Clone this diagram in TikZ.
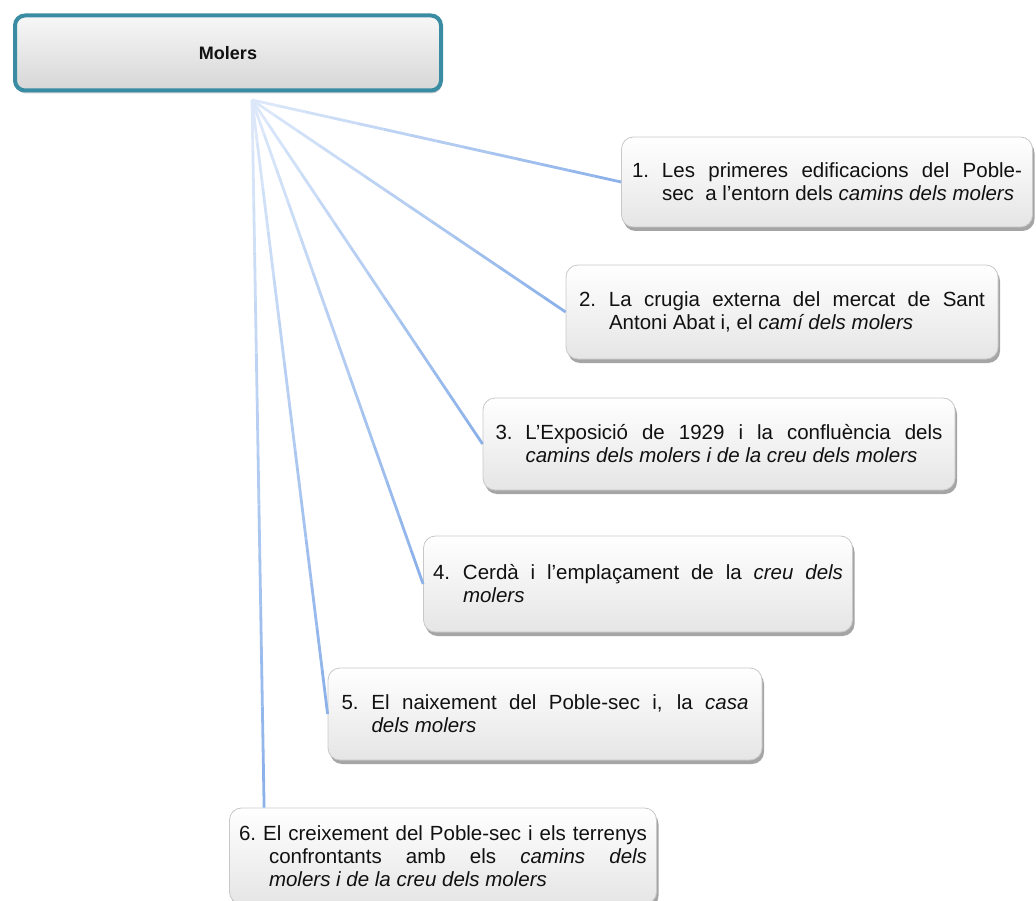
\documentclass[tikz,border=0pt]{standalone}
\usepackage{fontspec}
\setmainfont{Liberation Sans}
\usetikzlibrary{shadows}
\definecolor{Teal}{HTML}{3A8CA3}
\definecolor{Link}{HTML}{8DB2EA}
\definecolor{LinkPale}{HTML}{E2ECFB}
\definecolor{Edge}{HTML}{C8C8C8}
\definecolor{Shade}{HTML}{D4D4D4}
\definecolor{Ink}{HTML}{111111}

\tikzset{
  rootbox/.style={rectangle, rounded corners=10pt, draw=Teal, line width=4pt,
    top color=gray!6, bottom color=gray!32,
    drop shadow={shadow xshift=1pt, shadow yshift=-3pt, opacity=0.3, fill=black!60},
    font=\fontsize{18}{22}\selectfont\bfseries, text=Ink},
  topic/.style={rectangle, rounded corners=12pt, draw=Edge, line width=0.8pt,
    top color=white, bottom color=Shade!60,
    drop shadow={shadow xshift=2pt, shadow yshift=-4pt, opacity=0.5, fill=black!70},
    font=\fontsize{20.5}{23}\selectfont, text=Ink, inner sep=0pt},
  link/.style={line width=2.8pt}
}

\begin{document}
\begin{tikzpicture}[x=1pt,y=-1pt]
  \useasboundingbox (0,0) rectangle (1036,901);
  \node[rootbox, minimum width=426pt, minimum height=75pt] (root) at (228,53) {Molers};
  \coordinate (hub) at (252,100);
  \foreach \i/\cx/\cy/\w/\h/\tw/\txt in {
    1/827/182/411/90/390/{\makebox[30pt][l]{1.}Les primeres edificacions del Poble-\linebreak sec\ \ a l’entorn dels \textit{camins dels molers}},
    2/782/312/432/94/406/{\makebox[30pt][l]{2.}La crugia externa del mercat de Sant\linebreak Antoni Abat i, el \textit{camí dels molers}},
    3/719/444/472/92/447/{\makebox[30pt][l]{3.}L’Exposició de 1929 i la confluència dels\linebreak \textit{camins dels molers i de la creu dels molers}},
    4/638/584/429/96/410/{\makebox[30pt][l]{4.}Cerdà i l’emplaçament de la \textit{creu dels\linebreak molers}},
    5/545/714/434/92/407/{\makebox[30pt][l]{5.}El naixement del Poble-sec i, la \textit{casa\linebreak dels molers}},
    6/443/856/427/96/408/{6.\ El creixement del Poble-sec i els terrenys\linebreak confrontants amb els \textit{camins dels\linebreak molers i de la creu dels molers}}} {
    \node[topic, minimum width=\w pt, minimum height=\h pt] (box\i) at (\cx,\cy)
      {\parbox{\tw pt}{\hangindent=30pt\hangafter=1 \txt}};
  }
  % connector ends
  \foreach \i in {1,...,5}
    \coordinate (end\i) at (box\i.west);
  \coordinate (end6) at ([xshift=35pt]box6.north west);
  % connectors, pale at the hub and deeper towards each box
  \foreach \i in {1,...,6}
    \foreach \k in {1,...,14} {
      \pgfmathsetmacro\posA{(\k-1)/14}
      \pgfmathsetmacro\posB{\k/14}
      \pgfmathsetmacro\tint{100*\k/14}
      \path (hub) -- (end\i) coordinate[pos=\posA] (segA) coordinate[pos=\posB] (segB);
      \draw[link, Link!\tint!LinkPale] (segA) -- (segB);
    }
\end{tikzpicture}
\end{document}
